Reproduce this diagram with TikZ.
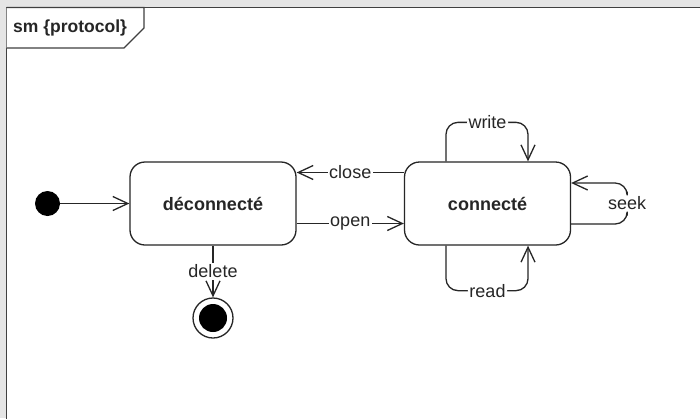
\documentclass[tikz,border=0pt]{standalone}
\usepackage{fontspec}
\setmainfont{Liberation Sans}
\usetikzlibrary{arrows.meta,calc}
\begin{document}
\begin{tikzpicture}[x=1pt,y=-1pt,
  ink/.style={draw=black!85, line width=1.3pt},
  state/.style={ink, rounded corners=15pt, minimum width=166pt, minimum height=83pt,
    inner sep=0pt, text=black!85, font=\fontsize{18}{21}\selectfont\bfseries},
  lbl/.style={fill=white, inner sep=1.5pt, text=black!85, font=\fontsize{18}{21}\selectfont},
  arr/.style={ink, -{Straight Barb[length=15pt,width=14pt]}},
  initst/.style={circle, fill=black, minimum size=25pt, inner sep=0pt},
  finalst/.style={circle, ink, minimum size=40pt, inner sep=0pt,
    path picture={\fill[black] (path picture bounding box.center) circle (14pt);}},
]
\useasboundingbox (0,0) rectangle (700,418);
\clip (0,0) rectangle (700,418);

% window background and diagram frame
\fill[gray!20] (0,0) rectangle (700,418);
\draw[fill=white, draw=black!75, line width=1.6pt] (6.5,7.5) rectangle (720,440);

% frame name tag
\draw[fill=white, draw=black!75, line width=1.3pt]
  (6.5,7.5) -- (144,7.5) -- (144,28) -- (124,48) -- (6.5,48);
\node[anchor=west, inner sep=0pt, text=black!85, font=\fontsize{17.5}{20}\selectfont\bfseries]
  (tag) at (13,28) {sm \{protocol\}};

% states
\node[state] (dec) at (213,203.5) {déconnecté};
\node[state] (con) at (487.5,203.5) {connecté};
\node[initst] (init) at (47.5,203.5) {};
\node[finalst] (fin) at (213,318) {};

% transitions
\draw[arr] (init) -- (dec);
\draw[arr] ($(con.west)+(0,-31)$) -- node[lbl] (lclose) {close} ($(dec.east)+(0,-31)$);
\draw[arr] ($(dec.east)+(0,20)$) -- node[lbl] (lopen) {open} ($(con.west)+(0,20)$);
\draw[arr, rounded corners=12pt] ($(con.north)+(-41.5,0)$) |- ($(con.north)+(0,-39)$)
  node[lbl] (lwrite) {write} -| ($(con.north)+(40.5,0)$);
\draw[arr, rounded corners=12pt] ($(con.south)+(-41.5,0)$) |- ($(con.south)+(0,45)$)
  node[lbl] (lread) {read} -| ($(con.south)+(40.5,0)$);
\draw[arr, rounded corners=12pt] ($(con.east)+(0,20.5)$) -| ($(con.east)+(56,0)$)
  node[lbl] (lseek) {seek} |- ($(con.east)+(0,-20.5)$);
\draw[arr] (dec.south) -- node[lbl] (ldel) {delete} (fin);
\end{tikzpicture}
\end{document}
